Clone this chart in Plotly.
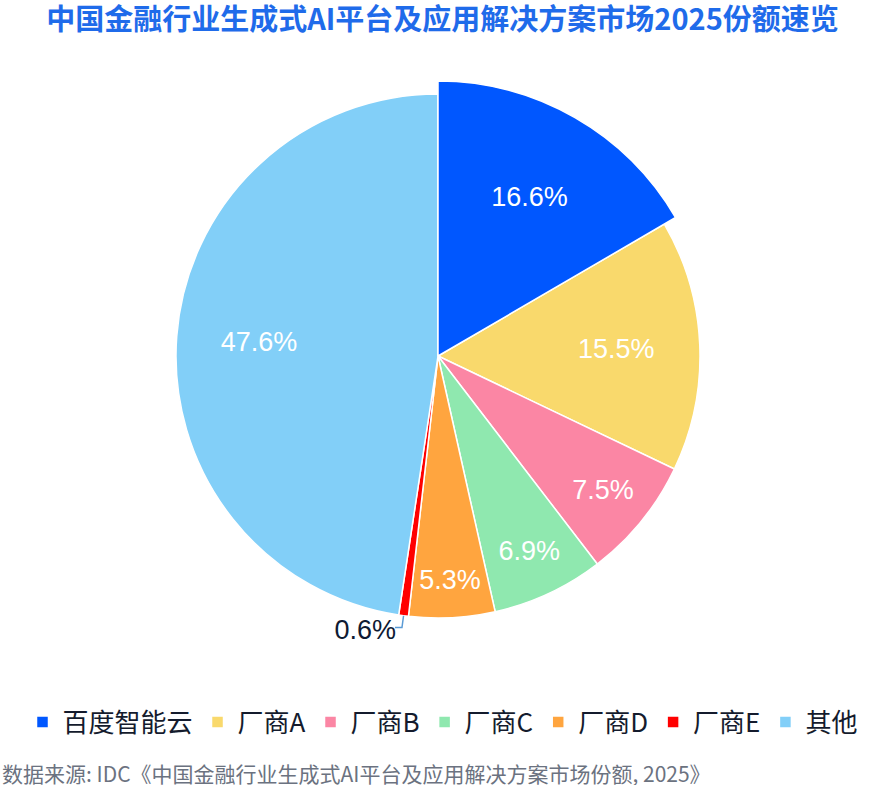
import math
import plotly.graph_objects as go

W, H = 885, 785

labels = ["百度智能云", "厂商A", "厂商B", "厂商C", "厂商D", "厂商E", "其他"]
shares = [16.6, 15.5, 7.5, 6.9, 5.3, 0.6, 47.6]
colors = ["#0057FF", "#F9D96C", "#FB86A4", "#8FE8AF", "#FFA53F", "#FF0000", "#82CFF8"]

title_text = "中国金融行业生成式AI平台及应用解决方案市场2025份额速览"
source_text = "数据来源: IDC《中国金融行业生成式AI平台及应用解决方案市场份额, 2025》"

# pie geometry in pixels (center, normal radius, radius of highlighted slice)
cx, cy = 438, 356
r_norm, r_big = 262, 275
n = len(shares)
clear = "rgba(0,0,0,0)"


def dom(r):
    return dict(x=[(cx - r) / W, (cx + r) / W],
                y=[(H - cy - r) / H, (H - cy + r) / H])


label_text = ["%.1f%%" % v for v in shares]
inside_font = dict(family="Liberation Sans", size=27, color="white")


def only(i, items, other):
    return [items[k] if k == i else other for k in range(n)]


fig = go.Figure()

# main pie (labels for the mid-sized slices + the small outside one)
main_text = [""] + label_text[1:6] + [""]
positions = ["inside"] * 5 + ["outside", "inside"]
fig.add_trace(go.Pie(
    labels=labels, values=shares, sort=False, direction="clockwise", rotation=0,
    domain=dom(r_norm), hoverinfo="label+percent",
    marker=dict(colors=colors, line=dict(color="white", width=1.5)),
    text=main_text, textinfo="text", textposition=positions,
    insidetextorientation="horizontal",
    textfont=inside_font,
    outsidetextfont=dict(family="Liberation Sans", size=27, color="#0E1A33"),
))

# highlighted slice (百度智能云) drawn larger on top
fig.add_trace(go.Pie(
    labels=labels, values=shares, sort=False, direction="clockwise", rotation=0,
    domain=dom(r_big), showlegend=False, hoverinfo="skip",
    marker=dict(colors=only(0, colors, clear),
                line=dict(color="white", width=only(0, [1.5] * n, 0))),
    text=only(0, label_text, ""), textinfo="text", textposition="inside",
    insidetextorientation="horizontal", textfont=inside_font,
))

# label of the large 其他 slice, pushed outwards via a transparent ring
fig.add_trace(go.Pie(
    labels=labels, values=shares, sort=False, direction="clockwise", rotation=0,
    domain=dom(r_norm), hole=0.37, showlegend=False, hoverinfo="skip",
    marker=dict(colors=[clear] * n, line=dict(width=0)),
    text=only(6, label_text, ""), textinfo="text", textposition="inside",
    insidetextorientation="horizontal", textfont=inside_font,
))

# leader line for the 厂商E label, from the slice's mid-angle
mid = (sum(shares[:5]) + shares[5] / 2) / sum(shares) * 2 * math.pi
x0 = cx + r_norm * math.sin(mid)
y0 = cy - r_norm * math.cos(mid)
x1 = cx + (r_norm + 12) * math.sin(mid)
y1 = cy - (r_norm + 12) * math.cos(mid)
pts = [(x0, y0), (x1, y1), (x1 - 7, y1)]

fig.update_layout(
    width=W, height=H,
    margin=dict(l=0, r=0, t=0, b=0),
    paper_bgcolor="white",
    title=dict(text=title_text, x=0.5, xanchor="center", y=(H - 20) / H, yanchor="middle",
               font=dict(family="Noto Sans CJK SC", size=29, color="#1F6BEA", weight="bold")),
    legend=dict(orientation="h", x=0.5, xanchor="center", y=(H - 722) / H, yanchor="middle",
                font=dict(family="Noto Sans CJK SC", size=26, color="#141B2D"),
                itemclick=False),
    shapes=[dict(type="path", xref="paper", yref="paper",
                 path="M %.4f,%.4f L %.4f,%.4f L %.4f,%.4f" % tuple(
                     v for x, y in pts for v in (x / W, 1 - y / H)),
                 line=dict(color="#5B9BD5", width=1.5))],
    annotations=[dict(text=source_text, x=0, xref="paper", xanchor="left",
                      y=(H - 773) / H, yref="paper", yanchor="middle", showarrow=False,
                      font=dict(family="Noto Sans CJK SC", size=21, color="#6B7280"))],
)

fig.write_html("out.html", config={"displayModeBar": False},
               post_script="document.body.style.margin='0';")
